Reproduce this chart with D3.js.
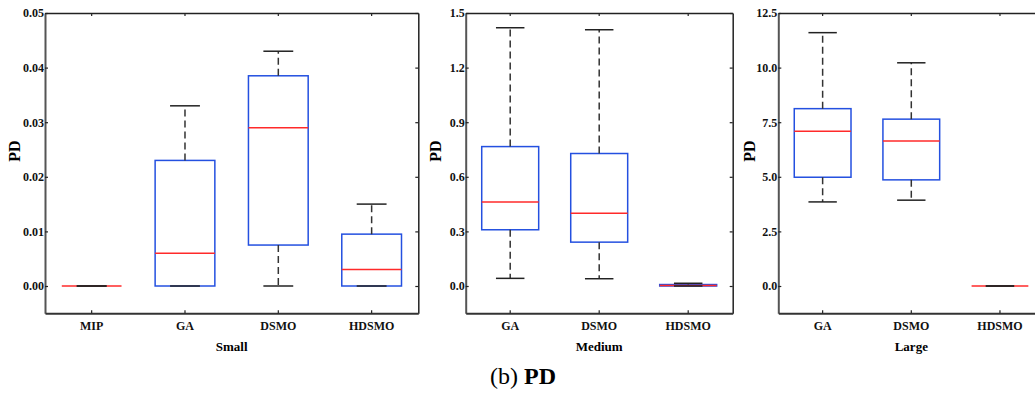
<!DOCTYPE html>
<html>
<head>
<meta charset="utf-8">
<script src="https://cdn.jsdelivr.net/npm/d3@7"></script>
<style>
  body { margin: 0; background: #fff; }
  text { font-family: "Liberation Serif", "Times New Roman", serif; }
</style>
</head>
<body>
<div id="chart"></div>
<script>
// box stats per category: [lowerWhisker, q1, median, q3, upperWhisker]
const smallCats = ['MIP', 'GA', 'DSMO', 'HDSMO'];
const smallStats = [
  [0, 0, 0, 0, 0],
  [0, 0, 0.006, 0.023, 0.033],
  [0, 0.0075, 0.029, 0.0385, 0.043],
  [0, 0, 0.003, 0.0095, 0.015]
];
const smallTicks = [0, 0.01, 0.02, 0.03, 0.04, 0.05];

const mediumCats = ['GA', 'DSMO', 'HDSMO'];
const mediumStats = [
  [0.042, 0.309, 0.461, 0.766, 1.419],
  [0.040, 0.241, 0.400, 0.728, 1.408],
  [0, 0, 0.003, 0.008, 0.015]
];
const mediumTicks = [0, 0.3, 0.6, 0.9, 1.2, 1.5];

const largeCats = ['GA', 'DSMO', 'HDSMO'];
const largeStats = [
  [3.85, 4.98, 7.09, 8.12, 11.6],
  [3.93, 4.86, 6.64, 7.64, 10.22],
  [0, 0, 0, 0, 0]
];
const largeTicks = [0, 2.5, 5, 7.5, 10, 12.5];

const svg = d3.select('#chart').append('svg')
  .attr('width', 1035)
  .attr('height', 393);

const plotTop = 13, plotBottom = 313.3;

const panels = [
  { cats: smallCats, stats: smallStats, ticks: smallTicks, domain: [-0.005, 0.05], fmt: d3.format('.2f'),
    left: 45, right: 418.3, title: 'Small', ylabX: 15 },
  { cats: mediumCats, stats: mediumStats, ticks: mediumTicks, domain: [-0.15, 1.5], fmt: d3.format('.1f'),
    left: 465.7, right: 732.7, title: 'Medium', ylabX: 436 },
  { cats: largeCats, stats: largeStats, ticks: largeTicks, domain: [-1.25, 12.5], fmt: d3.format('.1f'),
    left: 778.3, right: 1044.3, title: 'Large', ylabX: 749.5 }
];

panels.forEach(p => {
  const x = d3.scaleBand().domain(p.cats).range([p.left, p.right]).padding(0);
  const y = d3.scaleLinear().domain(p.domain).range([plotBottom, plotTop]);
  const bw = x.bandwidth() * 0.64;
  const cx = c => x(c) + x.bandwidth() / 2;

  // axes with inward ticks
  const ax = svg.append('g');
  ax.append('g')
    .attr('transform', `translate(${p.left},0)`)
    .call(d3.axisLeft(y).tickValues(p.ticks).tickFormat(p.fmt).tickSizeInner(-3).tickSizeOuter(0).tickPadding(1))
    .call(g => g.select('.domain').attr('stroke', '#555').attr('stroke-width', 2));
  ax.append('g')
    .attr('transform', `translate(${p.right},0)`)
    .call(d3.axisRight(y).tickValues(p.ticks).tickFormat('').tickSizeInner(-3).tickSizeOuter(0))
    .call(g => g.select('.domain').attr('stroke', '#222').attr('stroke-width', 1.5));
  ax.append('g')
    .attr('transform', `translate(0,${plotBottom})`)
    .call(d3.axisBottom(x).tickFormat(d => d).tickSizeInner(-3).tickSizeOuter(0).tickPadding(8))
    .call(g => g.select('.domain').attr('stroke', '#333').attr('stroke-width', 2));
  ax.append('g')
    .attr('transform', `translate(0,${plotTop})`)
    .call(d3.axisTop(x).tickFormat('').tickSizeInner(-3).tickSizeOuter(0))
    .call(g => g.select('.domain').attr('stroke', '#222').attr('stroke-width', 1.5));
  ax.selectAll('.tick line').attr('stroke', '#222').attr('stroke-width', 1.2);
  ax.selectAll('.tick text')
    .attr('font-family', '"Liberation Serif", serif')
    .attr('font-weight', 'bold')
    .attr('font-size', 12)
    .attr('fill', '#111');

  // boxes
  const g = svg.append('g');
  p.cats.forEach((c, i) => {
    const [lo, q1, med, q3, hi] = p.stats[i];
    const xc = cx(c);
    g.append('rect')
      .attr('x', xc - bw / 2)
      .attr('y', y(q3))
      .attr('width', bw)
      .attr('height', y(q1) - y(q3))
      .attr('fill', 'none')
      .attr('stroke', '#2450e0')
      .attr('stroke-width', 1.5);
    g.append('line')
      .attr('x1', xc - bw / 2).attr('x2', xc + bw / 2)
      .attr('y1', y(med)).attr('y2', y(med))
      .attr('stroke', '#ff2a2a').attr('stroke-width', 1.5);
    // whiskers
    [[q3, hi], [q1, lo]].forEach(([a, b]) => {
      if (a !== b) {
        g.append('line')
          .attr('x1', xc).attr('x2', xc)
          .attr('y1', y(a)).attr('y2', y(b))
          .attr('stroke', '#333').attr('stroke-width', 1.5)
          .attr('stroke-dasharray', '7,4');
      }
      g.append('line')
        .attr('x1', xc - bw / 4).attr('x2', xc + bw / 4)
        .attr('y1', y(b)).attr('y2', y(b))
        .attr('stroke', '#222').attr('stroke-width', 1.5);
    });
  });

  // labels
  svg.append('text')
    .attr('x', (p.left + p.right) / 2)
    .attr('y', 351)
    .attr('text-anchor', 'middle')
    .attr('font-weight', 'bold')
    .attr('font-size', 13)
    .text(p.title);
  svg.append('text')
    .attr('transform', `translate(${p.ylabX + 5},151) rotate(-90)`)
    .attr('text-anchor', 'middle')
    .attr('font-weight', 'bold')
    .attr('font-size', 16)
    .text('PD');
});

// caption
const cap = svg.append('text')
  .attr('x', 523)
  .attr('y', 384)
  .attr('text-anchor', 'middle')
  .attr('font-size', 24);
cap.append('tspan').text('(b) ');
cap.append('tspan').attr('font-weight', 'bold').text('PD');
</script>
</body>
</html>
